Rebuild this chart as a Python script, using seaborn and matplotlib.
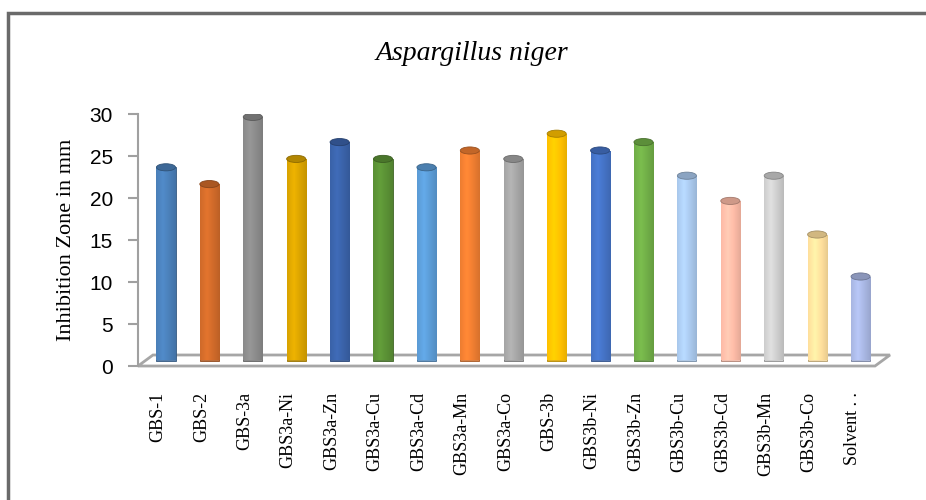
import numpy as np
import pandas as pd
import matplotlib.pyplot as plt
import matplotlib.colors as mcolors
import matplotlib.transforms as mtransforms
from matplotlib.patches import Ellipse, Polygon, Rectangle
import seaborn as sns

# data
compounds = ['GBS-1', 'GBS-2', 'GBS-3a', 'GBS3a-Ni', 'GBS3a-Zn', 'GBS3a-Cu', 'GBS3a-Cd',
             'GBS3a-Mn', 'GBS3a-Co', 'GBS-3b', 'GBS3b-Ni', 'GBS3b-Zn', 'GBS3b-Cu',
             'GBS3b-Cd', 'GBS3b-Mn', 'GBS3b-Co', 'Solvent . .']
zone_mm = [23, 21, 29, 24, 26, 24, 23, 25, 24, 27, 25, 26, 22, 19, 22, 15, 10]
bar_colors = ['#4a7fb8', '#cf6a2a', '#8a8a8a', '#d9a300', '#3a62a8', '#5a9035',
              '#5b9bd5', '#ed7d31', '#a5a5a5', '#ffc000', '#4472c4', '#70ad47',
              '#a9c8ec', '#fbbaa6', '#cdcdcd', '#ffdf9c', '#a8b6e2']

df = pd.DataFrame({'compound': compounds, 'zone': zone_mm})

sns.set_style('white')
plt.rcParams['text.color'] = 'black'
plt.rcParams['ytick.color'] = 'black'
plt.rcParams['xtick.color'] = 'black'
plt.rcParams['axes.labelcolor'] = 'black'
serif = 'Liberation Serif'
sans = 'Liberation Sans'

fig = plt.figure(figsize=(9.26, 5), dpi=100)
ax_l, ax_r, ax_b, ax_t = 138, 876, 366, 114   # pixel box of the plot area
ax = fig.add_axes([ax_l / 926, 1 - ax_b / 500, (ax_r - ax_l) / 926, (ax_b - ax_t) / 500])

sns.barplot(data=df, x='compound', y='zone', hue='compound', palette=bar_colors,
            legend=False, width=0.44, ax=ax, zorder=3)

# bars stand in the middle of the 3D floor -> push them back (right + up)
lift = ax.transData + mtransforms.ScaledTranslation(8 / 100, 5.5 / 100, fig.dpi_scale_trans)

# cylinder shading + top caps
for patch, col in zip(ax.patches, bar_colors):
    x0, y0 = patch.get_x(), patch.get_y()
    w, h = patch.get_width(), patch.get_height()
    base = np.array(mcolors.to_rgb(col))
    patch.set_transform(lift)
    patch.set_edgecolor(base * 0.7)
    patch.set_linewidth(0.6)
    t = np.linspace(0, 1, 60)
    light = 1 - 0.55 * np.abs(t - 0.35) / 0.65
    grad = np.clip(base[None, :] * (0.75 + 0.35 * light[:, None]), 0, 1)
    im = ax.imshow(grad[None, :, :], extent=[x0, x0 + w, y0, y0 + h],
                   aspect='auto', zorder=4, interpolation='bilinear')
    im.set_transform(lift)
    im.set_clip_path(patch)
    cap = Ellipse((x0 + w / 2, y0 + h), w, 0.85, facecolor=base * 0.82,
                  edgecolor=base * 0.65, lw=0.6, zorder=5, transform=lift)
    ax.add_patch(cap)

ax.set_xlim(-0.46, len(compounds) - 0.46)
ax.set_ylim(0, 30)
ax.set_yticks(range(0, 31, 5))

# 3D floor (drawn in axes fraction)
W, H = ax_r - ax_l, ax_b - ax_t
floor = Polygon([(0, 0), ((875 - ax_l) / W, 0), ((890 - ax_l) / W, 11 / H), (15 / W, 11 / H)],
                closed=True, facecolor='none', edgecolor='#a6a6a6', lw=2,
                zorder=2, clip_on=False, transform=ax.transAxes)
ax.add_patch(floor)

for side in ['top', 'right', 'bottom']:
    ax.spines[side].set_visible(False)
ax.spines['left'].set_color('#a0a0a0')
ax.spines['left'].set_linewidth(1.5)
ax.tick_params(axis='y', left=True, length=7, width=1.5, color='#a0a0a0',
               labelsize=15, pad=11)
ax.tick_params(axis='x', bottom=False, pad=15)
for lbl in ax.get_yticklabels():
    lbl.set_fontfamily(sans)
ax.set_xticks(range(len(compounds)))
ax.set_xticklabels(compounds, rotation=90, fontsize=13, fontfamily=serif, va='top')
ax.set_xlabel('')
ax.set_ylabel('Inhibition Zone in mm', fontsize=16, fontfamily=serif, labelpad=10)

fig.text(472 / 926, 1 - 54 / 500, 'Aspargillus niger', ha='center', va='center',
         fontsize=20, fontstyle='italic', fontfamily=serif)

# chart frame
fig.patches.append(Rectangle((8 / 926, -0.05), 1.1, 1 - 13 / 500 + 0.05,
                             transform=fig.transFigure, fill=False,
                             edgecolor='#6a6a6a', lw=2.5, zorder=0))

fig.savefig('out.png', dpi=100)
